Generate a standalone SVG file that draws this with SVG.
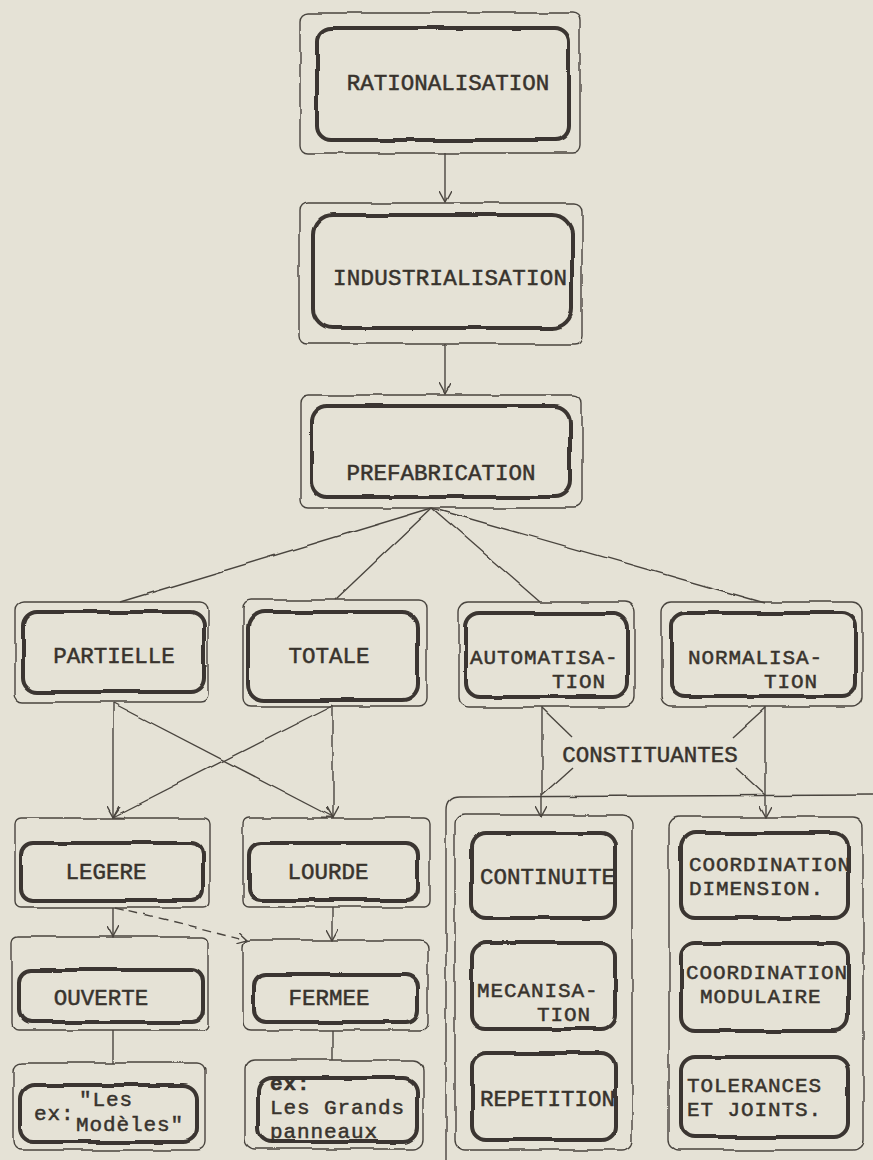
<svg xmlns="http://www.w3.org/2000/svg" width="873" height="1160" viewBox="0 0 873 1160">
<defs>
<style>
.bg{fill:#e5e2d6}
.outer{fill:none;stroke:#4a453f;stroke-width:1.4}
.inner{fill:none;stroke:#3b3630;stroke-width:4}
.ln{fill:none;stroke:#4a453f;stroke-width:1.4}
.dash{stroke-dasharray:9 6}
text{font-family:"Liberation Mono","Courier New",monospace;font-size:22.5px;fill:#38332d;stroke:#38332d;stroke-width:0.5}
.c{text-anchor:middle}
.e{text-anchor:end}
.m{font-size:21px;letter-spacing:0.9px}
</style>
<filter id="rough" x="-5%" y="-5%" width="110%" height="110%">
<feTurbulence type="fractalNoise" baseFrequency="0.025" numOctaves="2" seed="3" result="n"/>
<feDisplacementMap in="SourceGraphic" in2="n" scale="4" xChannelSelector="R" yChannelSelector="G"/>
</filter>
<marker id="arr" viewBox="0 0 12 12" refX="11" refY="6" markerWidth="12" markerHeight="12" markerUnits="userSpaceOnUse" orient="auto">
<path d="M0,0 L11,6 L0,12" fill="none" stroke="#4a453f" stroke-width="1.4"/>
</marker>
</defs>
<rect class="bg" x="0" y="0" width="873" height="1160"/>

<g id="connectors" filter="url(#rough)">
<path class="ln" d="M445,152 L445,202" marker-end="url(#arr)"/>
<path class="ln" d="M445,344 L445,394" marker-end="url(#arr)"/>
<path class="ln" d="M432,508 L120,602"/>
<path class="ln" d="M432,508 L335,600"/>
<path class="ln" d="M432,508 L540,602"/>
<path class="ln" d="M432,508 L765,603"/>
<path class="ln" d="M113,703 L113,817" marker-end="url(#arr)"/>
<path class="ln" d="M113,703 L333,817" marker-end="url(#arr)"/>
<path class="ln" d="M333,705 L333,817" marker-end="url(#arr)"/>
<path class="ln" d="M333,705 L113,817" marker-end="url(#arr)"/>
<path class="ln" d="M542,707 L542,817" marker-end="url(#arr)"/>
<path class="ln" d="M765,707 L765,817" marker-end="url(#arr)"/>
<path class="ln" d="M542,708 L572,737"/>
<path class="ln" d="M573,767 L542,795"/>
<path class="ln" d="M765,708 L733,737"/>
<path class="ln" d="M735,767 L765,795"/>
<path class="ln" d="M113,907 L113,937" marker-end="url(#arr)"/>
<path class="ln dash" d="M115,907 L248,940" marker-end="url(#arr)"/>
<path class="ln" d="M333,907 L333,940" marker-end="url(#arr)"/>
<path class="ln" d="M113,1030 L113,1063"/>
<path class="ln" d="M333,1030 L333,1060"/>
<path class="ln" d="M446,1160 L446,810 Q446,797 459,797 L873,795"/>
</g>

<g id="n-rationalisation">
<rect class="outer" x="300" y="13" width="280" height="140" rx="8" filter="url(#rough)"/>
<rect class="inner" x="317" y="28" width="252" height="112" rx="14" filter="url(#rough)"/>
<text class="c" x="448" y="90">RATIONALISATION</text>
</g>
<g id="n-industrialisation">
<rect class="outer" x="299" y="203" width="283" height="141" rx="8" filter="url(#rough)"/>
<rect class="inner" x="313" y="215" width="259" height="113" rx="20" filter="url(#rough)"/>
<text class="c" x="450" y="285" textLength="234" lengthAdjust="spacing">INDUSTRIALISATION</text>
</g>
<g id="n-prefabrication">
<rect class="outer" x="300" y="395" width="282" height="113" rx="8" filter="url(#rough)"/>
<rect class="inner" x="311" y="406" width="259" height="91" rx="16" filter="url(#rough)"/>
<text class="c" x="441" y="480">PREFABRICATION</text>
</g>

<g id="n-partielle">
<rect class="outer" x="15" y="602" width="193" height="100" rx="8" filter="url(#rough)"/>
<rect class="inner" x="23" y="612" width="181" height="80" rx="14" filter="url(#rough)"/>
<text class="c" x="114" y="663">PARTIELLE</text>
</g>
<g id="n-totale">
<rect class="outer" x="243" y="600" width="184" height="106" rx="8" filter="url(#rough)"/>
<rect class="inner" x="248" y="612" width="170" height="88" rx="16" filter="url(#rough)"/>
<text class="c" x="329" y="663">TOTALE</text>
</g>
<g id="n-automatisation">
<rect class="outer" x="459" y="602" width="176" height="105" rx="10" filter="url(#rough)"/>
<rect class="inner" x="466" y="613" width="162" height="84" rx="14" filter="url(#rough)"/>
<text class="m" x="470" y="664">AUTOMATISA-</text>
<text class="m e" x="606" y="688">TION</text>
</g>
<g id="n-normalisation">
<rect class="outer" x="661" y="602" width="202" height="105" rx="10" filter="url(#rough)"/>
<rect class="inner" x="671" y="613" width="185" height="84" rx="14" filter="url(#rough)"/>
<text class="m" x="688" y="664">NORMALISA-</text>
<text class="m e" x="818" y="688">TION</text>
</g>

<g id="l-constituantes">
<text class="c" x="650" y="762">CONSTITUANTES</text>
</g>

<g id="n-legere">
<rect class="outer" x="15" y="818" width="195" height="89" rx="6" filter="url(#rough)"/>
<rect class="inner" x="21" y="843" width="182" height="57" rx="12" filter="url(#rough)"/>
<text class="c" x="106" y="879">LEGERE</text>
</g>
<g id="n-lourde">
<rect class="outer" x="243" y="818" width="187" height="89" rx="6" filter="url(#rough)"/>
<rect class="inner" x="249" y="843" width="169" height="57" rx="12" filter="url(#rough)"/>
<text class="c" x="328" y="879">LOURDE</text>
</g>
<g id="n-ouverte">
<rect class="outer" x="12" y="937" width="196" height="93" rx="6" filter="url(#rough)"/>
<rect class="inner" x="19" y="970" width="184" height="52" rx="12" filter="url(#rough)"/>
<text class="c" x="101" y="1005">OUVERTE</text>
</g>
<g id="n-fermee">
<rect class="outer" x="243" y="940" width="185" height="90" rx="8" filter="url(#rough)"/>
<rect class="inner" x="254" y="975" width="164" height="47" rx="12" filter="url(#rough)"/>
<text class="c" x="329" y="1005">FERMEE</text>
</g>
<g id="n-ex-modeles">
<rect class="outer" x="13" y="1063" width="192" height="87" rx="8" filter="url(#rough)"/>
<rect class="inner" x="20" y="1085" width="177" height="57" rx="14" filter="url(#rough)"/>
<text class="m" x="34" y="1120">ex:</text>
<text class="m" x="79" y="1106">"Les</text>
<text class="m" x="76" y="1131">Modèles"</text>
</g>
<g id="n-ex-panneaux">
<rect class="outer" x="245" y="1060" width="178" height="89" rx="10" filter="url(#rough)"/>
<rect class="inner" x="258" y="1078" width="159" height="64" rx="14" filter="url(#rough)"/>
<text class="m" x="270" y="1090" style="font-weight:bold">ex:</text>
<text class="m" x="270" y="1114">Les Grands</text>
<text class="m" x="270" y="1138">panneaux</text>
</g>

<g id="n-col-automatisation">
<rect class="outer" x="455" y="815" width="177" height="335" rx="10" filter="url(#rough)"/>
</g>
<g id="n-continuite">
<rect class="inner" x="472" y="833" width="143" height="85" rx="14" filter="url(#rough)"/>
<text x="480" y="884">CONTINUITE</text>
</g>
<g id="n-mecanisation">
<rect class="inner" x="472" y="943" width="143" height="86" rx="14" filter="url(#rough)"/>
<text class="m" x="477" y="997">MECANISA-</text>
<text class="m e" x="591" y="1021">TION</text>
</g>
<g id="n-repetition">
<rect class="inner" x="472" y="1053" width="143" height="87" rx="14" filter="url(#rough)"/>
<text x="480" y="1106">REPETITION</text>
</g>

<g id="n-col-normalisation">
<rect class="outer" x="669" y="817" width="194" height="333" rx="10" filter="url(#rough)"/>
</g>
<g id="n-coord-dim">
<rect class="inner" x="681" y="833" width="167" height="85" rx="14" filter="url(#rough)"/>
<text class="m" x="689" y="871">COORDINATION</text>
<text class="m" x="689" y="895">DIMENSION.</text>
</g>
<g id="n-coord-mod">
<rect class="inner" x="681" y="943" width="167" height="88" rx="14" filter="url(#rough)"/>
<text class="m" x="686" y="979">COORDINATION</text>
<text class="m" x="700" y="1003">MODULAIRE</text>
</g>
<g id="n-tolerances">
<rect class="inner" x="681" y="1057" width="167" height="80" rx="14" filter="url(#rough)"/>
<text class="m" x="687" y="1092">TOLERANCES</text>
<text class="m" x="687" y="1116">ET JOINTS.</text>
</g>
</svg>
